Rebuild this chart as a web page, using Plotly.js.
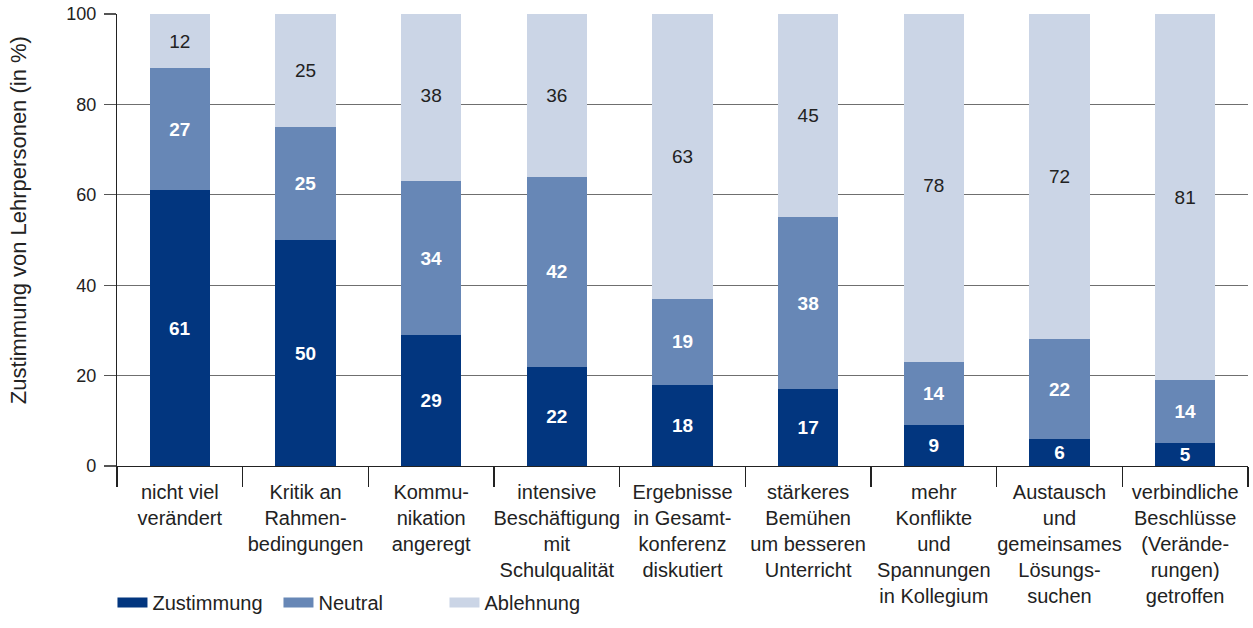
<!DOCTYPE html>
<html><head><meta charset="utf-8">
<script src="https://cdn.plot.ly/plotly-3.0.1.min.js"></script>
<style>body{margin:0;background:#fff}#c{width:1253px;height:628px}</style>
</head><body><div id="c"></div>
<script>
const categories = [
  "nicht viel<br>verändert",
  "Kritik an<br>Rahmen-<br>bedingungen",
  "Kommu-<br>nikation<br>angeregt",
  "intensive<br>Beschäftigung<br>mit<br>Schulqualität",
  "Ergebnisse<br>in Gesamt-<br>konferenz<br>diskutiert",
  "stärkeres<br>Bemühen<br>um besseren<br>Unterricht",
  "mehr<br>Konflikte<br>und<br>Spannungen<br>in Kollegium",
  "Austausch<br>und<br>gemeinsames<br>Lösungs-<br>suchen",
  "verbindliche<br>Beschlüsse<br>(Verände-<br>rungen)<br>getroffen"
];
const seriesNames = ["Zustimmung", "Neutral", "Ablehnung"];
const zustimmung = [61, 50, 29, 22, 18, 17, 9, 6, 5];
const neutral    = [27, 25, 34, 42, 19, 38, 14, 22, 14];
const ablehnung  = [12, 25, 38, 36, 63, 45, 78, 72, 81];
const yTicks = [0, 20, 40, 60, 80, 100];
const yTitle = "Zustimmung von Lehrpersonen (in %)";

const FONT = "Liberation Sans, Arial, sans-serif";
const colors = ["#02367f", "#6787b6", "#cbd5e6"];
const textColors = ["#ffffff", "#ffffff", "#222222"];
const weights = ["bold", "bold", "normal"];
const series = [zustimmung, neutral, ablehnung];

const data = [];
series.forEach((vals, i) => {
  data.push({
    type: "bar", name: seriesNames[i], x: categories, y: vals,
    marker: {color: colors[i], line: {width: 0}},
    width: 0.48, showlegend: false,
    text: vals.map(String),
    textposition: "inside", insidetextanchor: "middle",
    constraintext: "none", textangle: 0,
    textfont: {family: FONT, size: 19, color: textColors[i], weight: weights[i]},
    hoverinfo: "skip"
  });
});
// legend entries (wide swatches, like the reference)
series.forEach((vals, i) => {
  data.push({
    type: "scatter", mode: "lines", name: seriesNames[i],
    x: [null], y: [null], showlegend: true,
    line: {color: colors[i], width: 17}, hoverinfo: "skip"
  });
});

const layout = {
  width: 1253, height: 628,
  margin: {l: 117, r: 5, t: 14, b: 162},
  barmode: "stack",
  paper_bgcolor: "#fff", plot_bgcolor: "#fff",
  font: {family: FONT, size: 17, color: "#222"},
  showlegend: true,
  legend: {orientation: "h", x: -0.004, xanchor: "left", y: -0.345, yanchor: "bottom",
           font: {family: FONT, size: 20, color: "#222"}, traceorder: "normal",
           itemwidth: 30, tracegroupgap: 0, entrywidth: 121, entrywidthmode: "pixels"},
  xaxis: {
    type: "category", tickson: "boundaries", ticks: "outside", ticklen: 20,
    tickcolor: "#222", tickwidth: 1.2, tickangle: 0,
    showline: true, linecolor: "#222", linewidth: 1.2,
    showgrid: false, tickfont: {family: FONT, size: 20, color: "#222"},
    ticklabelstandoff: 8,
    automargin: false, range: [-0.5, 8.5]
  },
  yaxis: {
    range: [0, 100], tickvals: yTicks, ticks: "outside", ticklen: 12,
    tickcolor: "#555", tickwidth: 1.2,
    showline: true, linecolor: "#222", linewidth: 1.2,
    showgrid: true, gridcolor: "#6f6f6f", gridwidth: 1.2,
    zeroline: false, ticklabelstandoff: 4,
    tickfont: {family: FONT, size: 18, color: "#222"},
    automargin: false, fixedrange: true
  },
  annotations: [{
    text: yTitle, xref: "paper", yref: "paper",
    x: -0.0875, y: 0.544, xanchor: "center", yanchor: "middle",
    textangle: -90, showarrow: false,
    font: {family: FONT, size: 22, color: "#222"}
  }]
};
Plotly.newPlot("c", data, layout, {displayModeBar: false, staticPlot: true});
</script></body></html>
